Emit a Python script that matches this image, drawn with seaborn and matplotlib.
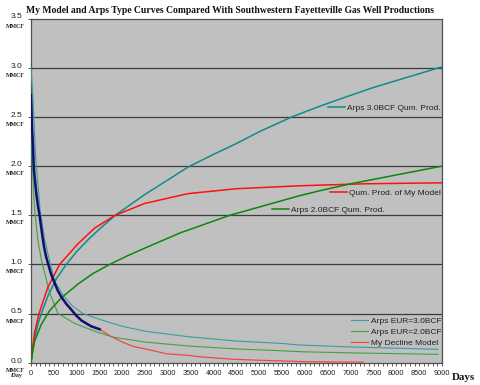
import matplotlib
matplotlib.use("Agg")
import matplotlib.pyplot as plt
import seaborn as sns
import numpy as np
import pandas as pd
from matplotlib.ticker import MultipleLocator

# ---------------- data ----------------
# cumulative production (BCF) vs days
teal_cum_days = [0, 40, 80, 150, 226, 372, 550, 773, 1000, 1248, 1500, 1846, 2489, 3000, 3438, 4000, 4500, 5000, 5708, 6328, 7000, 7500, 8000, 8500, 9000]
teal_cum_vals = [0, 0.14, 0.25, 0.39, 0.50, 0.68, 0.85, 1.0, 1.13, 1.25, 1.36, 1.50, 1.71, 1.86, 1.99, 2.12, 2.23, 2.35, 2.50, 2.61, 2.72, 2.80, 2.87, 2.94, 3.01]

red_cum_days = [0, 40, 80, 175, 372, 628, 1029, 1394, 1846, 2489, 3438, 4500, 5890, 7300, 9000]
red_cum_vals = [0, 0.17, 0.31, 0.50, 0.77, 1.0, 1.21, 1.37, 1.50, 1.62, 1.72, 1.77, 1.80, 1.82, 1.83]

green_cum_days = [0, 40, 80, 226, 409, 664, 1029, 1350, 1723, 2100, 2489, 3263, 4357, 5890, 6328, 7000, 8000, 9000]
green_cum_vals = [0, 0.12, 0.22, 0.39, 0.53, 0.66, 0.80, 0.905, 1.0, 1.085, 1.165, 1.32, 1.50, 1.70, 1.75, 1.82, 1.91, 2.0]

# production rate (MMCF/day) vs days
teal_rate_days = [0, 40, 100, 200, 300, 400, 518, 700, 900, 1138, 1511, 2000, 2500, 3438, 4500, 5452, 5890, 7000, 8912]
teal_rate_vals = [3.0, 2.72, 2.10, 1.55, 1.25, 1.05, 0.83, 0.69, 0.58, 0.50, 0.44, 0.37, 0.32, 0.265, 0.22, 0.197, 0.18, 0.16, 0.136]

green_rate_days = [0, 30, 80, 150, 226, 409, 591, 956, 1394, 1800, 2500, 3438, 4500, 5452, 5890, 7000, 8912]
green_rate_vals = [2.6, 2.0, 1.55, 1.25, 1.05, 0.71, 0.50, 0.40, 0.32, 0.26, 0.21, 0.17, 0.14, 0.122, 0.112, 0.10, 0.085]

red_rate_days = [0, 22, 44, 66, 117, 190, 285, 372, 518, 664, 883, 1102, 1321, 1504, 1759, 2000, 2241, 2606, 2971, 3438, 3701, 4430, 5000, 5890, 6500, 7270]
red_rate_vals = [2.68, 2.38, 2.18, 1.95, 1.71, 1.48, 1.17, 1.00, 0.80, 0.66, 0.53, 0.43, 0.37, 0.34, 0.265, 0.21, 0.165, 0.13, 0.09, 0.075, 0.06, 0.035, 0.025, 0.012, 0.008, 0.005]

well_days = [0, 8, 15, 22, 30, 44, 55, 66, 90, 117, 150, 190, 240, 285, 330, 372, 440, 518, 590, 664, 770, 883, 990, 1102, 1210, 1321, 1410, 1504]
well_vals = [2.72, 2.62, 2.50, 2.40, 2.33, 2.20, 2.06, 1.96, 1.84, 1.72, 1.60, 1.49, 1.32, 1.18, 1.08, 1.01, 0.90, 0.81, 0.73, 0.67, 0.60, 0.54, 0.48, 0.43, 0.40, 0.37, 0.355, 0.34]

y_ticks = [0.0, 0.5, 1.0, 1.5, 2.0, 2.5, 3.0, 3.5]
x_ticks = list(range(0, 9001, 500))

# ---------------- figure ----------------
W, H = 480, 385
fig = plt.figure(figsize=(W / 100, H / 100), dpi=100)
fig.patch.set_facecolor("white")
x0, x1 = 31, 442
y_top, y_bot = 18.65, 362.7
ax = fig.add_axes([x0 / W, (H - y_bot) / H, (x1 - x0) / W, (y_bot - y_top) / H])
ax.set_facecolor("#C0C0C0")

C_TEAL = "#0E8C8C"
C_TEAL_L = "#3A9E9E"
C_GREEN = "#0A880A"
C_GREEN_L = "#3FA33F"
C_RED = "#FF1010"
C_RED_L = "#F04848"
C_NAVY = "#101070"

def draw(days, vals, color, lw, label=None, z=3):
    df = pd.DataFrame({"d": days, "v": vals})
    sns.lineplot(data=df, x="d", y="v", ax=ax, color=color, linewidth=lw,
                 estimator=None, sort=False, label=label, legend=False, zorder=z)

for yv in y_ticks[1:-1]:
    ax.axhline(yv, color="#3c3c3c", lw=0.9, zorder=1)

draw(teal_rate_days, teal_rate_vals, C_TEAL_L, 0.8, "Arps EUR=3.0BCF")
draw(green_rate_days, green_rate_vals, C_GREEN_L, 0.8, "Arps EUR=2.0BCF")
draw(red_rate_days, red_rate_vals, C_RED_L, 0.9, "My Decline Model")
draw(well_days, well_vals, C_NAVY, 1.8, None, z=4)
draw(teal_cum_days, teal_cum_vals, C_TEAL, 1.1, "Arps 3.0BCF Qum. Prod.")
draw(red_cum_days, red_cum_vals, C_RED, 1.1, "Qum. Prod. of My Model")
draw(green_cum_days, green_cum_vals, C_GREEN, 1.1, "Arps 2.0BCF Qum. Prod.")

ax.set_xlim(0, 9000)
ax.set_ylim(0, 3.5)
ax.set_xlabel("")
ax.set_ylabel("")

for s in ax.spines.values():
    s.set_color("#505050")
    s.set_linewidth(0.9)

ax.set_xticks(x_ticks)
ax.xaxis.set_minor_locator(MultipleLocator(100))
ax.set_xticklabels([str(t) for t in x_ticks], fontsize=5.3, family="Liberation Sans", color="#202020")
ax.tick_params(axis="x", which="both", direction="out", length=2.5, width=0.6, color="#404040", pad=3)
ax.set_yticks(y_ticks)
ax.set_yticklabels([])
ax.tick_params(axis="y", direction="out", length=2.5, width=0.6, color="#404040")

for yv in y_ticks:
    ax.annotate(f"{yv:.1f}", xy=(0, yv), xycoords=("axes fraction", "data"),
                xytext=(-10.5, 1.2), textcoords="offset points", ha="center", va="center",
                fontsize=6, family="Liberation Sans", color="#202020")
    sub = "MMCF\n/Day" if yv == 0 else "MMCF"
    ax.annotate(sub, xy=(0, yv), xycoords=("axes fraction", "data"),
                xytext=(-11, -3.6), textcoords="offset points", ha="center", va="top",
                fontsize=4.2, family="Liberation Serif", weight="bold", color="#202020",
                linespacing=1.0)

fig.text(463 / W, 1 - 377 / H, "Days", ha="center", va="center", fontsize=7.8,
         family="Liberation Serif", weight="bold", color="#101010")
fig.text(230 / W, 1 - 10.5 / H, "My Model and Arps Type Curves Compared With Southwestern Fayetteville Gas Well Productions",
         ha="center", va="center", fontsize=6.95, family="Liberation Serif", weight="bold", color="#101010")

# ---------------- legends ----------------
handles, labels = ax.get_legend_handles_labels()
hmap = dict(zip(labels, handles))
common = dict(frameon=False, prop={"family": "Liberation Sans", "size": 6},
              handlelength=2.0, handletextpad=0.3, borderpad=0, borderaxespad=0,
              labelcolor="#202020")

def yfrac(py):
    return (y_bot - py) / (y_bot - y_top)

def xfrac(px):
    return (px - x0) / (x1 - x0)

leg1 = ax.legend([hmap["Arps 3.0BCF Qum. Prod."]], ["Arps 3.0BCF Qum. Prod."],
                 loc="center right", bbox_to_anchor=(xfrac(441), yfrac(108)), **common)
ax.add_artist(leg1)
leg2 = ax.legend([hmap["Qum. Prod. of My Model"]], ["Qum. Prod. of My Model"],
                 loc="center right", bbox_to_anchor=(xfrac(441), yfrac(193)), **common)
ax.add_artist(leg2)
leg3 = ax.legend([hmap["Arps 2.0BCF Qum. Prod."]], ["Arps 2.0BCF Qum. Prod."],
                 loc="center left", bbox_to_anchor=(xfrac(272), yfrac(210)), **common)
ax.add_artist(leg3)
leg4 = ax.legend([hmap["Arps EUR=3.0BCF"], hmap["Arps EUR=2.0BCF"], hmap["My Decline Model"]],
                 ["Arps EUR=3.0BCF", "Arps EUR=2.0BCF", "My Decline Model"],
                 loc="center right", bbox_to_anchor=(xfrac(441), yfrac(332)),
                 labelspacing=0.35, **common)

fig.savefig("out.png", dpi=100, facecolor="white")
